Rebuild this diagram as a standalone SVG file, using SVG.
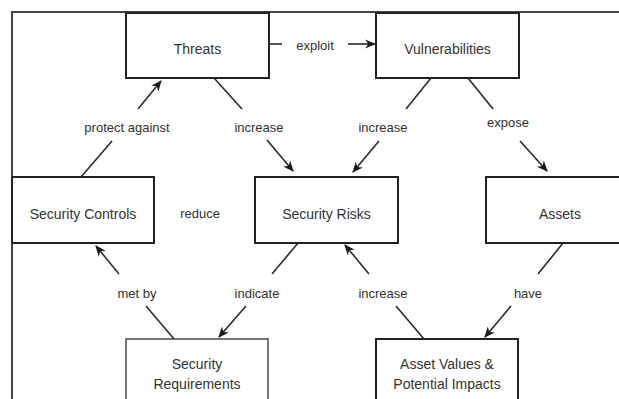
<svg xmlns="http://www.w3.org/2000/svg" width="619" height="399" viewBox="0 0 619 399">
<style>
.box{fill:#fff;stroke:#222;stroke-width:2}
.box2{fill:#fff;stroke:#555;stroke-width:1.6}
.frame{fill:none;stroke:#444;stroke-width:2}
.nt{font-family:"Liberation Sans",Arial,sans-serif;font-size:14px;fill:#333;text-anchor:middle}
.lt{font-family:"Liberation Sans",Arial,sans-serif;font-size:13px;fill:#333;text-anchor:middle}
.c line{stroke:#2a2a2a;stroke-width:1.6;fill:none}
.c line.h{marker-end:url(#ah)}
</style>
<defs>
<marker id="ah" viewBox="0 0 10 10" refX="9" refY="5" markerWidth="11" markerHeight="11" markerUnits="userSpaceOnUse" orient="auto">
<path d="M0,0.8 L10,5 L0,9.2 L3,5 z" fill="#1a1a1a"/>
</marker>
</defs>
<rect width="619" height="399" fill="#fff"/>
<path class="frame" d="M12,405 L12,12 L625,12"/>
<g id="threats"><rect class="box" x="126" y="13" width="143" height="65"/><text class="nt" x="197.5" y="54">Threats</text></g>
<g id="vulnerabilities"><rect class="box" x="376" y="13" width="143" height="65"/><text class="nt" x="447.5" y="54">Vulnerabilities</text></g>
<g id="security-controls"><rect class="box" x="12" y="177" width="142" height="66"/><text class="nt" x="83" y="219">Security Controls</text></g>
<g id="security-risks"><rect class="box" x="255" y="177" width="143" height="66"/><text class="nt" x="326.5" y="219">Security Risks</text></g>
<g id="assets"><rect class="box" x="486" y="177" width="140" height="66"/><text class="nt" x="560" y="219">Assets</text></g>
<g id="security-requirements"><rect class="box2" x="126" y="339" width="142" height="70"/><text class="nt" x="197" y="369">Security</text><text class="nt" x="197" y="389">Requirements</text></g>
<g id="asset-values"><rect class="box" x="376" y="339" width="142" height="70"/><text class="nt" x="447" y="369">Asset Values &amp;</text><text class="nt" x="447" y="389">Potential Impacts</text></g>
<g id="connectors" class="c">
<g><line x1="269" y1="44" x2="282" y2="44"/><line class="h" x1="348" y1="44" x2="375" y2="44"/><text class="lt" x="315" y="49.5">exploit</text></g>
<g><line x1="81" y1="177" x2="112" y2="141"/><line class="h" x1="138" y1="109" x2="161" y2="81"/><text class="lt" x="127" y="131.5">protect against</text></g>
<g><line x1="214" y1="78" x2="242" y2="109"/><line class="h" x1="267" y1="140" x2="293" y2="171"/><text class="lt" x="259" y="131.5">increase</text></g>
<g><line x1="431" y1="78" x2="406" y2="109"/><line class="h" x1="379" y1="141" x2="353" y2="172"/><text class="lt" x="383" y="131.5">increase</text></g>
<g><line x1="468" y1="78" x2="493" y2="109"/><line class="h" x1="520" y1="141" x2="547" y2="171"/><text class="lt" x="508" y="126.5">expose</text></g>
<g><line x1="174" y1="339" x2="146" y2="306"/><line class="h" x1="119" y1="274" x2="96" y2="246"/><text class="lt" x="137" y="297.5">met by</text></g>
<g><line x1="298" y1="243" x2="272" y2="274"/><line class="h" x1="246" y1="306" x2="219" y2="337"/><text class="lt" x="257" y="297.5">indicate</text></g>
<g><line x1="424" y1="339" x2="396" y2="306"/><line class="h" x1="369" y1="274" x2="345" y2="245"/><text class="lt" x="383" y="297.5">increase</text></g>
<g><line x1="563" y1="243" x2="538" y2="274"/><line class="h" x1="511" y1="306" x2="485" y2="337"/><text class="lt" x="528" y="297.5">have</text></g>
<text class="lt" x="200" y="217.5">reduce</text>
</g>
</svg>
